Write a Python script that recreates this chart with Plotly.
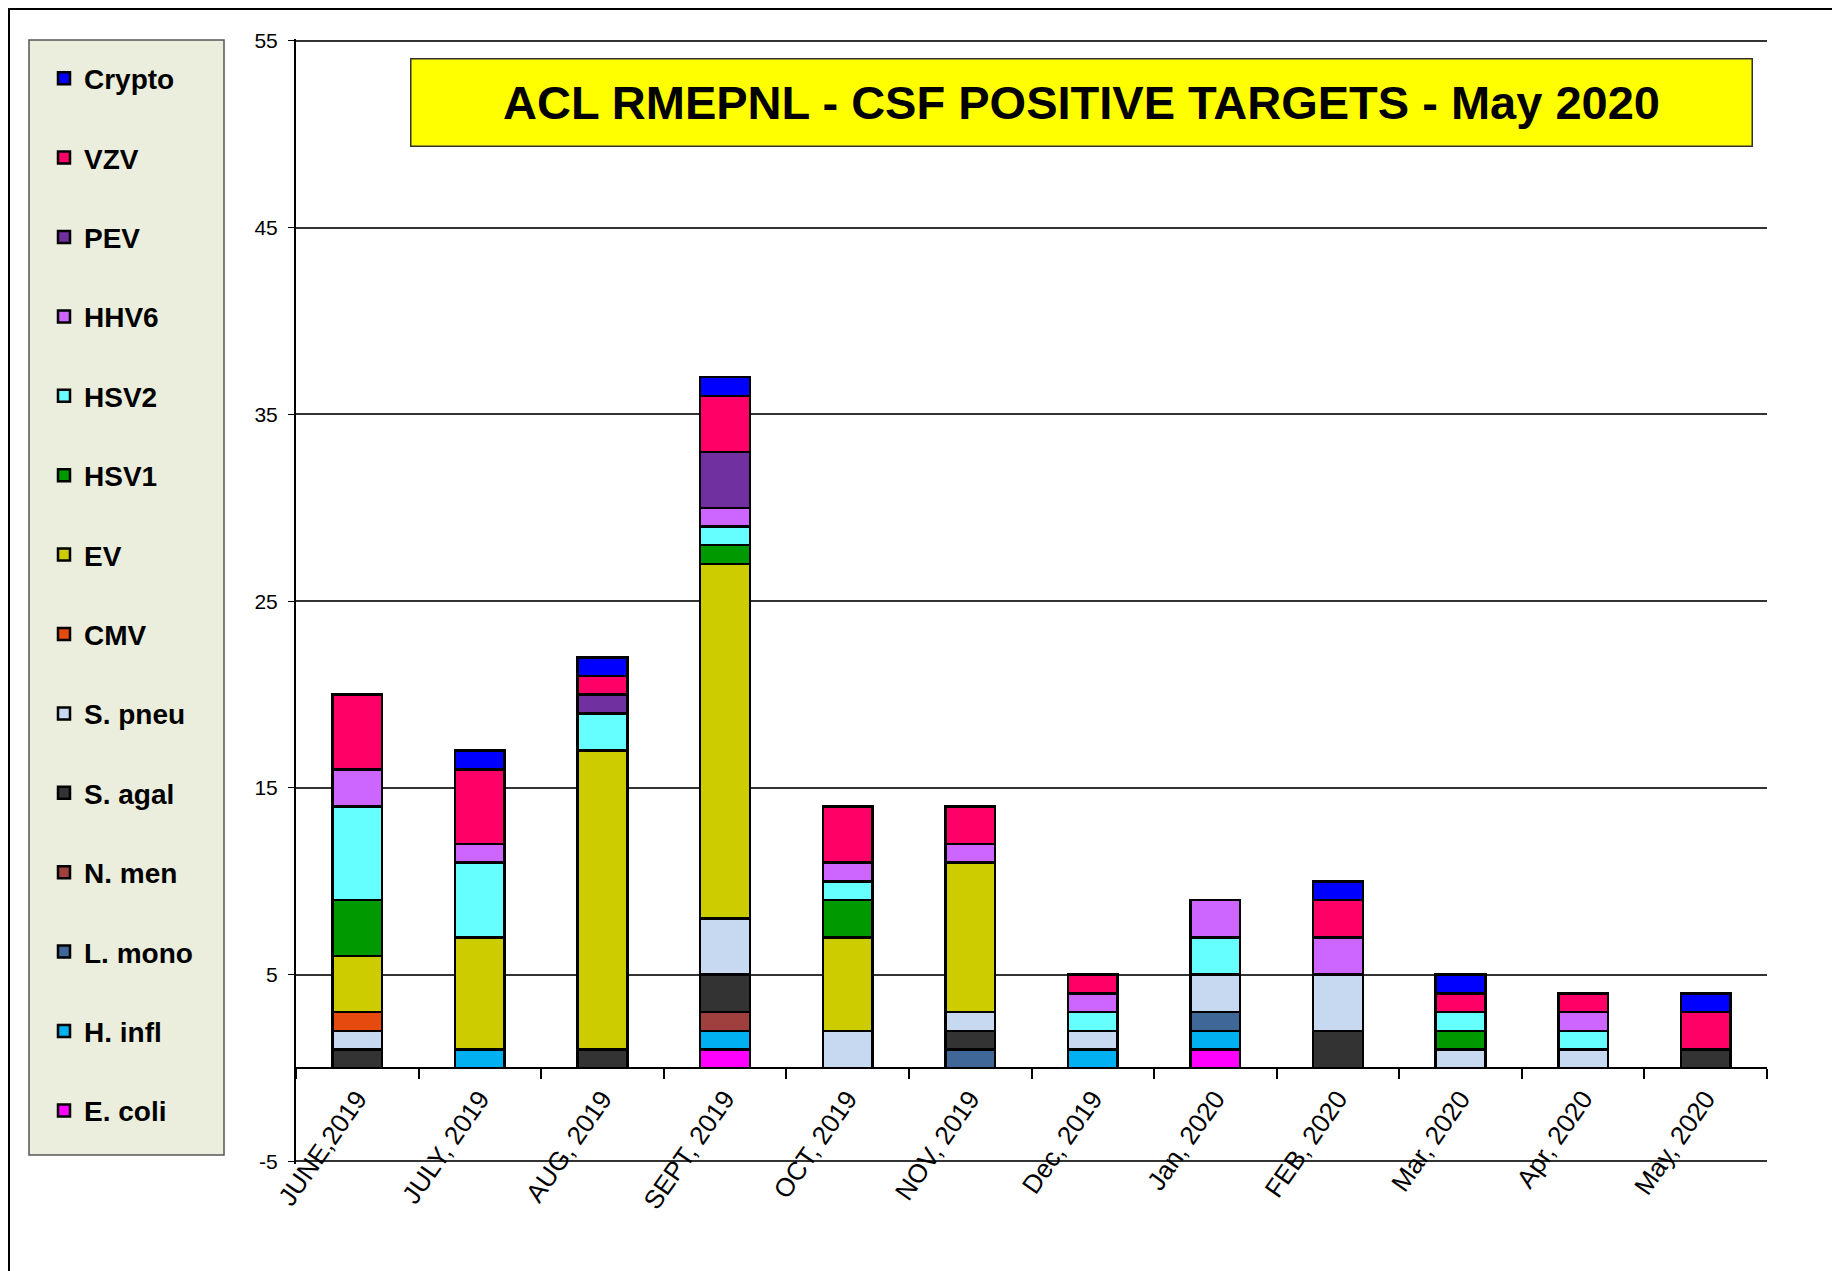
import plotly.graph_objects as go

# categories (months)
months = ["JUNE,2019", "JULY, 2019", "AUG, 2019", "SEPT, 2019", "OCT, 2019", "NOV, 2019",
          "Dec, 2019", "Jan, 2020", "FEB, 2020", "Mar, 2020", "Apr, 2020", "May, 2020"]

# positive targets per month, stacked bottom -> top
e_coli = [0, 0, 0, 1, 0, 0, 0, 1, 0, 0, 0, 0]
h_infl = [0, 1, 0, 1, 0, 0, 1, 1, 0, 0, 0, 0]
l_mono = [0, 0, 0, 0, 0, 1, 0, 1, 0, 0, 0, 0]
n_men = [0, 0, 0, 1, 0, 0, 0, 0, 0, 0, 0, 0]
s_agal = [1, 0, 1, 2, 0, 1, 0, 0, 2, 0, 0, 1]
s_pneu = [1, 0, 0, 3, 2, 1, 1, 2, 3, 1, 1, 0]
cmv = [1, 0, 0, 0, 0, 0, 0, 0, 0, 0, 0, 0]
ev = [3, 6, 16, 19, 5, 8, 0, 0, 0, 0, 0, 0]
hsv1 = [3, 0, 0, 1, 2, 0, 0, 0, 0, 1, 0, 0]
hsv2 = [5, 4, 2, 1, 1, 0, 1, 2, 0, 1, 1, 0]
hhv6 = [2, 1, 0, 1, 1, 1, 1, 2, 2, 0, 1, 0]
pev = [0, 0, 1, 3, 0, 0, 0, 0, 0, 0, 0, 0]
vzv = [4, 4, 1, 3, 3, 2, 1, 0, 2, 1, 1, 2]
crypto = [0, 1, 1, 1, 0, 0, 0, 0, 1, 1, 0, 1]

y_ticks = [-5, 5, 15, 25, 35, 45, 55]
y_labels = ["-5", "5", "15", "25", "35", "45", "55"]

series = [
    ("E. coli", e_coli, "#FF00FF"),
    ("H. infl", h_infl, "#00B0F0"),
    ("L. mono", l_mono, "#3F6797"),
    ("N. men", n_men, "#A0403E"),
    ("S. agal", s_agal, "#333333"),
    ("S. pneu", s_pneu, "#C6D9F0"),
    ("CMV", cmv, "#E64A0E"),
    ("EV", ev, "#CCCC00"),
    ("HSV1", hsv1, "#009900"),
    ("HSV2", hsv2, "#66FFFF"),
    ("HHV6", hhv6, "#CC66FF"),
    ("PEV", pev, "#7030A0"),
    ("VZV", vzv, "#FF0066"),
    ("Crypto", crypto, "#0000FF"),
]

FONT = "Liberation Sans, Arial, sans-serif"
W, H = 1840, 1271
OFF = 8  # page margin of the browser


def fx(px):
    return (px - OFF) / W


def fy(py):
    return 1 - (py - OFF) / H


fig = go.Figure()
n = len(series)
for i, (name, vals, color) in enumerate(series):
    fig.add_trace(go.Bar(
        x=months,
        y=[v if v else None for v in vals],
        name=name,
        legendgroup=name,
        legendrank=n - i,
        marker=dict(color=color, line=dict(color="black", width=2.5)),
    ))

# plot area in pixels of the reference (-5 at 1161.5, 55 at 41)
px_l, px_r = 296, 1767
unit = (1161.5 - 41) / 60
pad = 0.12
ymin, ymax = -5 - pad, 55 + pad
ydom = [fy(1161.5 + pad * unit), fy(41 - pad * unit)]
zero_pos = ydom[0] + (0 - ymin) / (ymax - ymin) * (ydom[1] - ydom[0])

fig.update_layout(
    width=W, height=H,
    margin=dict(l=0, r=0, t=0, b=0),
    paper_bgcolor="white",
    plot_bgcolor="white",
    barmode="stack",
    bargap=0.595,
    showlegend=True,
    legend=dict(
        x=fx(44), y=fy(53.5), xanchor="left", yanchor="top",
        bgcolor="rgba(0,0,0,0)", borderwidth=0,
        traceorder="grouped", tracegroupgap=40,
        font=dict(family=FONT, size=28, color="black", weight="bold"),
    ),
    xaxis=dict(
        domain=[fx(px_l), fx(px_r)],
        anchor="free", position=zero_pos,
        showline=True, linecolor="black", linewidth=2,
        ticks="outside", tickson="boundaries", ticklen=10, tickcolor="black", tickwidth=1.5,
        showgrid=False, tickangle=-55,
        tickfont=dict(family=FONT, size=26, color="black"),
        ticklabelstandoff=4,
        automargin=False,
    ),
    yaxis=dict(
        domain=ydom,
        range=[ymin, ymax], tickvals=y_ticks, ticktext=y_labels,
        showline=True, linecolor="black", linewidth=2,
        ticks="outside", ticklen=6, tickcolor="black",
        showgrid=True, gridcolor="#333333", gridwidth=1.5,
        zeroline=False,
        tickfont=dict(family=FONT, size=21, color="black"),
        ticklabelstandoff=6,
        automargin=False,
    ),
    shapes=[
        # outer frame
        dict(type="rect", xref="paper", yref="paper",
             x0=1 / W, x1=1.02, y0=-0.02, y1=1 - 1 / H,
             line=dict(color="black", width=2), layer="below"),
        # legend box
        dict(type="rect", xref="paper", yref="paper",
             x0=fx(29), x1=fx(224), y0=fy(1155), y1=fy(40),
             line=dict(color="#555555", width=1.5), fillcolor="#EBEEDD", layer="below"),
    ],
    annotations=[
        dict(text="<b>ACL RMEPNL - CSF POSITIVE TARGETS - May 2020</b>",
             xref="paper", yref="paper", x=fx(1081), y=fy(102.5),
             xanchor="center", yanchor="middle", showarrow=False,
             width=1340, height=86, borderpad=0,
             bgcolor="#FFFF00", bordercolor="#333333", borderwidth=1.5,
             font=dict(family=FONT, size=47, color="black")),
    ],
)

fig.write_html("out.html")
